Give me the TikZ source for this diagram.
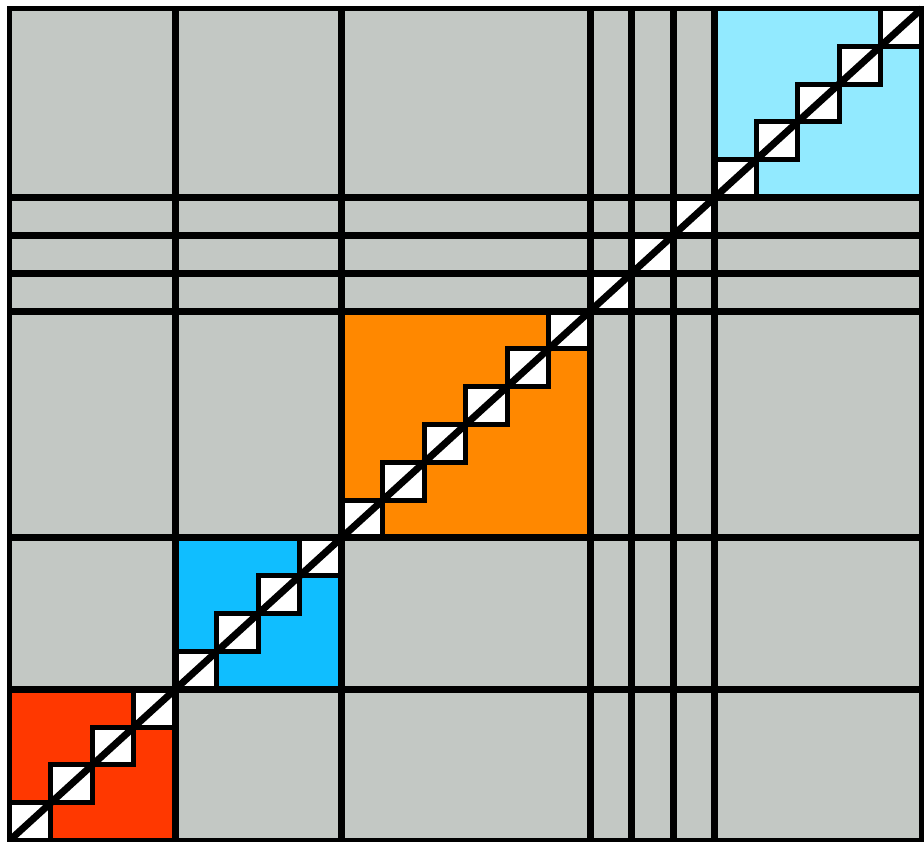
\documentclass[tikz,border=0pt]{standalone}
\definecolor{gridgray}{RGB}{195,200,196}
\definecolor{blockred}{RGB}{255,56,0}
\definecolor{blockblue}{RGB}{16,190,255}
\definecolor{blockorange}{RGB}{255,136,0}
\definecolor{blockcyan}{RGB}{146,234,255}
\begin{document}
\begin{tikzpicture}[x=41.477pt,y=37.82pt,
  gridline/.style={line width=7pt},
  outerline/.style={line width=5.5pt},
  cellbox/.style={fill=white,draw=black,line width=5pt},
  diagline/.style={line width=7pt}]
\useasboundingbox (-9.5pt,-0.5pt) rectangle (914.5pt,840.5pt);
\fill[gridgray] (0,0) rectangle (22,22);
\fill[blockred] (0,0) rectangle (4,4);
\fill[blockblue] (4,4) rectangle (8,8);
\fill[blockorange] (8,8) rectangle (14,14);
\fill[blockcyan] (17,17) rectangle (22,22);
\foreach \i in {0,...,21} {
  \filldraw[cellbox] (\i,\i) rectangle ++(1,1);
}
\foreach \v in {4,8,14,15,16,17} {
  \draw[gridline] (\v,0) -- (\v,22);
  \draw[gridline] (0,\v) -- (22,\v);
}
\draw[outerline] (0,0) rectangle (22,22);
\coordinate (start) at (0,0);
\coordinate (end) at (22,22);
\draw[diagline] (start) -- (end);
\end{tikzpicture}
\end{document}
